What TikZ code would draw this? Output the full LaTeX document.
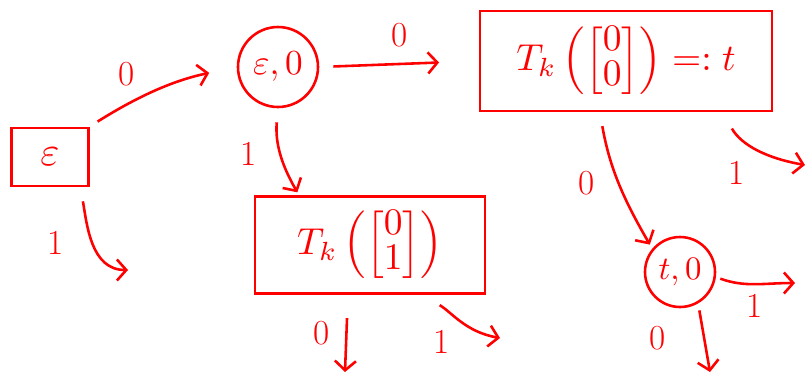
\documentclass[tikz,border=0pt]{standalone}
\usepackage{fix-cm}
\usepackage{amsmath}
\usetikzlibrary{arrows.meta}
\renewcommand{\arraystretch}{0.75}

\begin{document}
\begin{tikzpicture}[x=0.03cm, y=-0.03cm, line width=2.2pt, red,
    box/.style={draw, rectangle, inner sep=0pt},
    state/.style={draw, circle, inner sep=0pt, minimum size=2.4cm},
    arr/.style={-{Straight Barb[length=8pt,width=18pt]}},
    lbl/.style={font=\fontsize{30}{36}\selectfont}]
        \useasboundingbox (0,0) rectangle (806,378);

        \node[box, minimum width=2.3cm, minimum height=1.75cm] (eps) at (50,157) {\scalebox{3.5}{$\varepsilon$}};
        \node[state] (eps0) at (278,67) {\scalebox{3}{$\varepsilon,0$}};
        \node[box, minimum width=8.75cm, minimum height=3cm] (tdef) at (626,61) {\scalebox{3.2}{$T_k\left(\begin{bmatrix}0\\0\end{bmatrix}\right) =: t$}};
        \node[box, minimum width=6.9cm, minimum height=2.9cm] (tone) at (370,245) {\scalebox{3.2}{$T_k\left(\begin{bmatrix}0\\1\end{bmatrix}\right)$}};
        \node[state, minimum size=2.1cm] (t0) at (680,272) {\scalebox{2.8}{$t,0$}};

        \coordinate (epsend) at (128,270);
        \coordinate (tone0) at (345,372);
        \coordinate (tone1) at (500,338);
        \coordinate (tdef1) at (805,165);
        \coordinate (t00) at (710,372);
        \coordinate (t01) at (795,283);

        \draw[arr, shorten <=8pt, shorten >=24pt] (eps.north east) to[bend left=10] node[lbl, pos=0.25, above=12pt] {0} (eps0.west);
        \draw[arr, shorten <=12pt] (eps.-45) to[out=-80, in=180] node[lbl, left=20pt] {1} (epsend);

        \draw[arr, shorten <=12pt, shorten >=34pt] (eps0.east) -- node[lbl, above=10pt] {0} (tdef.west);
        \draw[arr, shorten <=12pt, shorten >=3pt] (eps0.south) to[out=-95, in=120] node[lbl, left=16pt] {1} (tone.145);

        \draw[arr, shorten <=20pt] (tone.-114) -- node[lbl, left=10pt] {0} (tone0);
        \draw[arr, shorten <=18pt] (tone.-44) to[out=-30, in=170] node[lbl, below left=4pt] {1} (tone1);

        \draw[arr, shorten <=12pt, shorten >=4pt] (tdef.-117) to[out=-80, in=120] node[lbl, left=16pt] {0} (t0.140);
        \draw[arr, shorten <=16pt] (tdef.-28) to[out=-60, in=170] node[lbl, below left=6pt] {1} (tdef1);

        \draw[arr, shorten <=6pt] (t0.-60) -- node[lbl, left=28pt] {0} (t00);
        \draw[arr, shorten <=4pt] (t0.-8) to[out=-20, in=180] node[lbl, below=4pt] {1} (t01);
\end{tikzpicture}
\end{document}
